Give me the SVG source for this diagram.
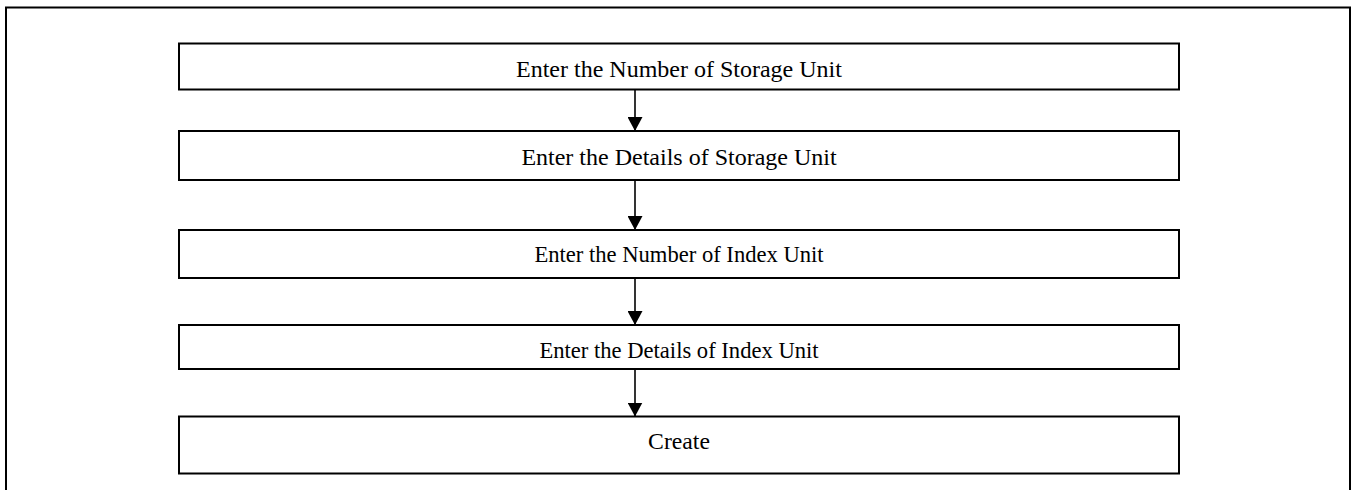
<svg xmlns="http://www.w3.org/2000/svg" width="1355" height="490" viewBox="0 0 1355 490">
<defs>
<marker id="ah" viewBox="0 0 14 15" refX="14" refY="7.5" markerWidth="14" markerHeight="15" markerUnits="userSpaceOnUse" orient="auto">
<path d="M0,0 L14,7.5 L0,15 Z" fill="#000"/>
</marker>
<style>
.box{fill:#fff;stroke:#000;stroke-width:2}
.lbl{font-family:"Liberation Serif","Times New Roman",serif;fill:#000;text-anchor:middle}
.conn{stroke:#000;stroke-width:1.6;fill:none}
</style>
</defs>
<rect x="0" y="0" width="1355" height="490" fill="#fff"/>
<rect id="frame" x="6" y="7.5" width="1344" height="500" fill="none" stroke="#000" stroke-width="2"/>
<g id="n1"><rect class="box" x="179" y="43.5" width="1000" height="46"/><text class="lbl" x="679" y="77" font-size="24">Enter the Number of Storage Unit</text></g>
<g id="n2"><rect class="box" x="179" y="131" width="1000" height="49"/><text class="lbl" x="679" y="165" font-size="24">Enter the Details of Storage Unit</text></g>
<g id="n3"><rect class="box" x="179" y="230" width="1000" height="48"/><text class="lbl" x="679" y="262" font-size="22.6">Enter the Number of Index Unit</text></g>
<g id="n4"><rect class="box" x="179" y="325" width="1000" height="44"/><text class="lbl" x="679" y="358" font-size="22.6">Enter the Details of Index Unit</text></g>
<g id="n5"><rect class="box" x="179" y="416.5" width="1000" height="57"/><text class="lbl" x="679" y="449" font-size="23.7">Create</text></g>
<g id="connectors">
<line class="conn" x1="635" y1="89.5" x2="635" y2="131" marker-end="url(#ah)"/>
<line class="conn" x1="635" y1="180" x2="635" y2="230" marker-end="url(#ah)"/>
<line class="conn" x1="635" y1="278" x2="635" y2="325" marker-end="url(#ah)"/>
<line class="conn" x1="635" y1="369" x2="635" y2="416.5" marker-end="url(#ah)"/>
</g>
</svg>
